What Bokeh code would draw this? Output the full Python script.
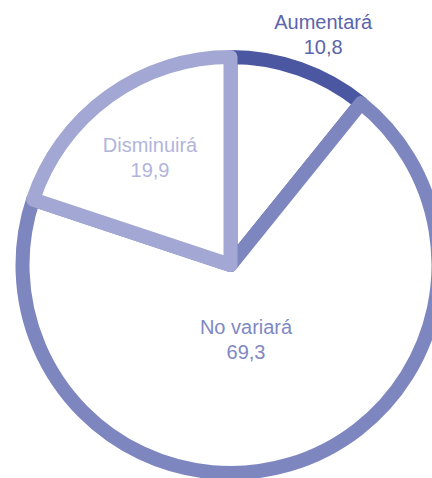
import math
from bokeh.plotting import figure
from bokeh.models import Range1d, ColumnDataSource
from bokeh.core.properties import value
from bokeh.embed import file_html
from bokeh.resources import INLINE

# ---- data ----
categories = ["Aumentará", "No variará", "Disminuirá"]
values = [10.8, 69.3, 19.9]
value_labels = ["10,8", "69,3", "19,9"]

# ---- style ----
slice_colors = ["#4b58a1", "#7e86c0", "#a2a7d3"]
text_colors = ["#5b64ac", "#8088c2", "#b1b5dc"]
label_radius = [248, 76, 134]          # px from centre
label_angle_shift = [-2.5, -4.6, 1.1]  # degrees
W, H = 432, 478
cx, cy, R = 230, 213.5, 208            # centre / radius in plot pixels (y up)

p = figure(width=W, height=H, output_backend="svg", toolbar_location=None,
           x_range=Range1d(0, W), y_range=Range1d(0, H), min_border=0)
p.axis.visible = False
p.grid.visible = False
p.outline_line_color = None
p.background_fill_color = "white"

total = sum(values)
cum = 0.0
starts, ends, mids = [], [], []
for v in values:
    a_end = 90 - cum / total * 360          # upper boundary (math degrees)
    cum += v
    a_start = 90 - cum / total * 360
    starts.append(math.radians(a_start))
    ends.append(math.radians(a_end))
    mids.append((a_start + a_end) / 2)

for i in range(len(values)):
    p.wedge(x=cx, y=cy, radius=R, start_angle=starts[i], end_angle=ends[i],
            direction="anticlock", fill_color="white",
            line_color=slice_colors[i], line_width=14, line_join="round")

lx, ly_name, ly_val = [], [], []
for i in range(len(values)):
    a = math.radians(mids[i] + label_angle_shift[i])
    x = cx + label_radius[i] * math.cos(a)
    y = cy + label_radius[i] * math.sin(a)
    lx.append(x)
    ly_name.append(y + 12.5)
    ly_val.append(y - 12.5)

src = ColumnDataSource(dict(x=lx, yn=ly_name, yv=ly_val, name=categories,
                            val=value_labels, color=text_colors))
p.text(x="x", y="yn", text="name", source=src, text_color="color",
       text_font=value("Liberation Sans"), text_font_size="20px",
       text_align="center", text_baseline="middle")
p.text(x="x", y="yv", text="val", source=src, text_color="color",
       text_font=value("Liberation Sans"), text_font_size="20px",
       text_align="center", text_baseline="middle")

open("out.html", "w").write(file_html(p, INLINE))
